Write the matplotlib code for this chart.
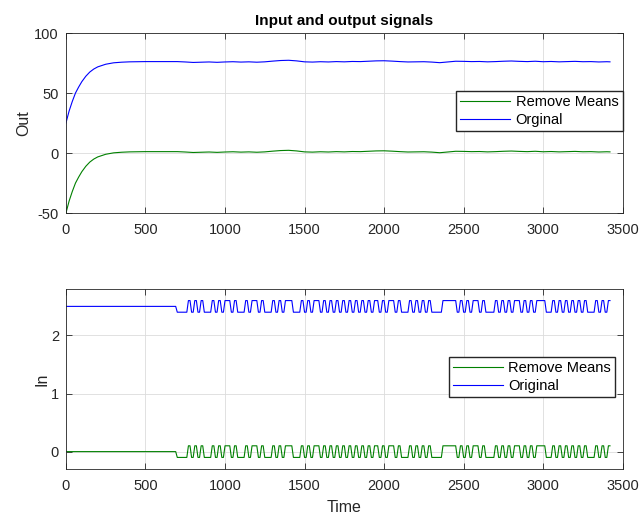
import numpy as np
import matplotlib
matplotlib.use('Agg')
import matplotlib.pyplot as plt

plt.rcParams['font.family'] = ['Liberation Sans', 'DejaVu Sans']
plt.rcParams['axes.unicode_minus'] = False

# output signal (Orginal)
out_time = [0, 20, 40, 60, 80, 100, 125, 150, 175, 200, 250, 300, 350, 400, 450,
            500, 550, 600, 650, 700, 750, 800, 850, 900, 950, 1000, 1050, 1100, 1150,
            1200, 1250, 1300, 1350, 1400, 1450, 1500, 1550, 1600, 1650, 1700, 1750,
            1800, 1850, 1900, 1950, 2000, 2050, 2100, 2150, 2200, 2250, 2300, 2350,
            2400, 2450, 2500, 2550, 2600, 2650, 2700, 2750, 2800, 2850, 2900, 2950,
            3000, 3050, 3100, 3150, 3200, 3250, 3300, 3350, 3400, 3420]
out_orig = [25, 35, 43, 50, 55, 59.5, 64, 67.5, 70, 71.8, 74, 75.2, 75.7, 76, 76.1,
            76.2, 76.2, 76.2, 76.2, 76.2, 75.9, 75.5, 75.7, 75.9, 75.6, 75.9, 76.1, 75.8, 76.0,
            75.7, 76.0, 76.6, 77.1, 77.3, 76.8, 76.0, 75.8, 76.1, 75.9, 76.2, 76.0,
            76.3, 76.2, 76.5, 76.8, 76.9, 76.6, 76.2, 75.9, 76.0, 76.1, 75.8, 75.3,
            75.9, 76.5, 76.4, 76.2, 76.3, 76.0, 76.2, 76.5, 76.7, 76.4, 76.2, 76.5,
            76.1, 76.3, 76.0, 76.2, 76.4, 76.1, 76.2, 75.9, 76.1, 76.0]
out_mean = 75.0

# input signal: 2.5 until the test starts, then toggles between low and high
in_start = 700
in_base = 2.5
in_low = 2.4
in_high = 2.6
in_mean = 2.5
in_end = 3420
in_dt = 10
in_durations = [70, 20, 20, 20, 20, 20, 50, 20, 20, 20, 20, 40, 20, 20, 50, 20, 20, 40,
                20, 20, 50, 20, 20, 20, 20, 50, 50, 20, 20, 20, 20, 40, 20, 20, 20, 20,
                20, 20, 20, 20, 20, 20, 20, 20, 20, 20, 20, 20, 20, 30, 20, 20, 20, 40,
                20, 20, 50, 20, 20, 20, 20, 20, 20, 20, 70, 90, 20, 20, 20, 20, 20, 40,
                20, 20, 60, 20, 20, 20, 20, 20, 20, 40, 20, 20, 20, 20, 20, 60, 40, 20,
                20, 20, 20, 20, 20, 20, 20, 20, 20, 20, 50, 20, 20, 20, 20, 10]

in_t = np.arange(0, in_end + 1, in_dt)
edges = in_start + np.cumsum(in_durations)
idx = np.minimum(np.searchsorted(edges, in_t, side='right'), len(in_durations) - 1)
in_orig = np.where(idx % 2 == 0, in_low, in_high)
in_orig = np.where(in_t < in_start, in_base, in_orig)

out_orig = np.array(out_orig)
green = '#008000'
blue = '#0000ff'
axcol = '#262626'

fig = plt.figure(figsize=(6.4, 5.16), dpi=100)
ax1 = fig.add_axes([0.103, 0.587, 0.870, 0.349])
ax2 = fig.add_axes([0.103, 0.091, 0.870, 0.349])

leg_kw = dict(fontsize=10.5, fancybox=False, edgecolor=axcol, framealpha=1,
              handlelength=3.4, borderaxespad=0, borderpad=0.3, labelspacing=0.25,
              handletextpad=0.4)

ax1.plot(out_time, out_orig - out_mean, color=green, lw=0.8, label='Remove Means')
ax1.plot(out_time, out_orig, color=blue, lw=0.8, label='Orginal')
ax1.set_xlim(0, 3500)
ax1.set_ylim(-50, 100)
ax1.set_yticks([-50, 0, 50, 100])
ax1.set_ylabel('Out', fontsize=11.5, color=axcol, labelpad=2.5)
ax1.set_title('Input and output signals', fontsize=11, fontweight='bold', color='black', pad=6)
ax1.legend(loc='upper right', bbox_to_anchor=(1.0, 0.678), **leg_kw)

ax2.plot(in_t, in_orig - in_mean, color=green, lw=0.8, label='Remove Means')
ax2.plot(in_t, in_orig, color=blue, lw=0.8, label='Original')
ax2.set_xlim(0, 3500)
ax2.set_ylim(-0.3, 2.8)
ax2.set_yticks([0, 1, 2])
ax2.set_ylabel('In', fontsize=11.5, color=axcol, labelpad=1)
ax2.set_xlabel('Time', fontsize=11.5, color=axcol, labelpad=5)
ax2.legend(loc='upper right', bbox_to_anchor=(0.987, 0.622), **leg_kw)

for ax in (ax1, ax2):
    ax.set_xticks(np.arange(0, 3501, 500))
    ax.grid(True, color='#dcdcdc', lw=0.6)
    ax.set_axisbelow(True)
    ax.tick_params(direction='in', top=True, right=True, labelsize=10.5,
                   colors=axcol, length=4, width=0.6)
    ax.tick_params(axis='x', pad=7)
    ax.tick_params(axis='y', pad=5)
    for s in ax.spines.values():
        s.set_color(axcol)
        s.set_linewidth(0.6)

fig.savefig('out.png', dpi=100)
